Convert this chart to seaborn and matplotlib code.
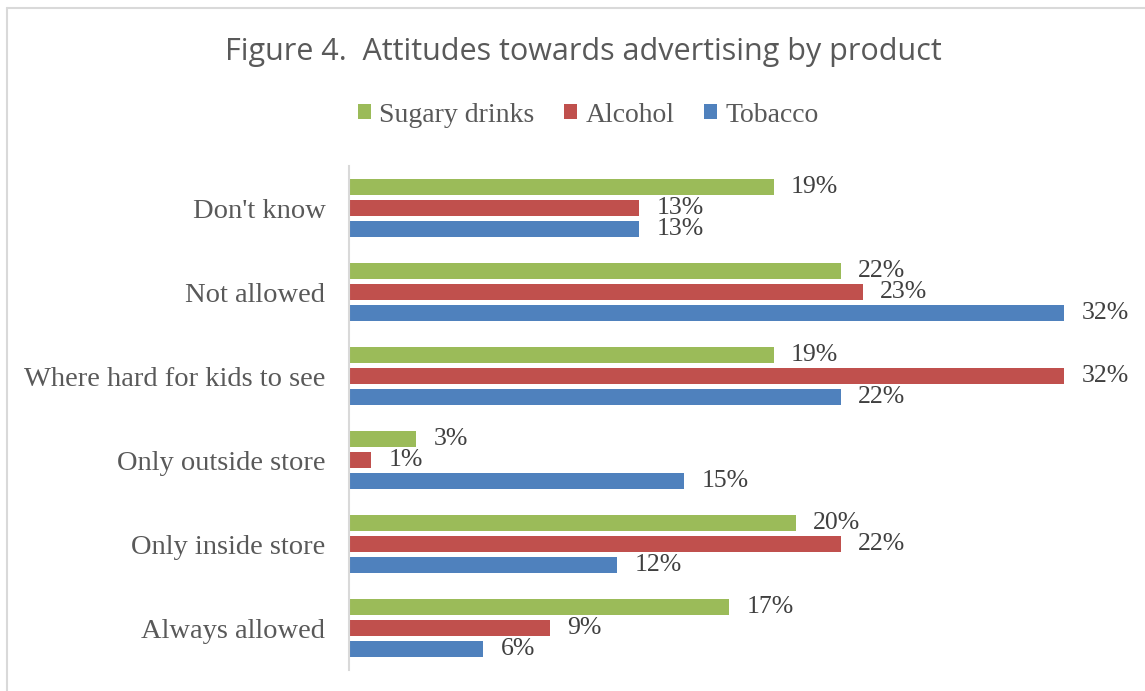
import matplotlib
matplotlib.use("Agg")
import matplotlib.pyplot as plt
import seaborn as sns
import pandas as pd
from matplotlib.lines import Line2D
from matplotlib.patches import Patch

categories = ["Don't know", "Not allowed", "Where hard for kids to see",
              "Only outside store", "Only inside store", "Always allowed"]
series = ["Sugary drinks", "Alcohol", "Tobacco"]
sugary = [19, 22, 19, 3, 20, 17]
alcohol = [13, 23, 32, 1, 22, 9]
tobacco = [13, 32, 22, 15, 12, 6]
colors = ["#9BBB59", "#C0504D", "#4F81BD"]

rows = []
for name, vals in zip(series, [sugary, alcohol, tobacco]):
    for c, v in zip(categories, vals):
        rows.append({"category": c, "product": name, "value": v})
df = pd.DataFrame(rows)

sns.set_style("white")
serif = ["Liberation Serif", "DejaVu Serif"]

W, H = 1145, 691
fig = plt.figure(figsize=(W / 100, H / 100), dpi=100)
ax = fig.add_axes([349 / W, 1 - 670 / H, (1131 - 349) / W, (670 - 166) / H])

sns.barplot(data=df, y="category", x="value", hue="product",
            order=categories, hue_order=series, palette=colors,
            saturation=1, orient="h", width=0.75, gap=0.24, linewidth=0,
            ax=ax, legend=False)

ax.set_xlim(0, 35)
ax.set_ylim(5.5, -0.5)
ax.set_xlabel("")
ax.set_ylabel("")
ax.set_xticks([])
for s in ["top", "right", "bottom"]:
    ax.spines[s].set_visible(False)
ax.spines["left"].set_color("#D9D9D9")
ax.spines["left"].set_linewidth(1.5)
ax.tick_params(axis="y", length=0, pad=17)
for lab in ax.get_yticklabels():
    lab.set_fontfamily(serif)
    lab.set_fontsize(20.5)
    lab.set_color("#595959")

for cont in ax.containers:
    labels = [f"{int(round(v))}%" for v in cont.datavalues]
    ax.bar_label(cont, labels=labels, padding=12.5, fontsize=18.5,
                 color="#404040", family=serif)

fig.text(583 / W, 1 - 52 / H, "Figure 4.  Attitudes towards advertising by product",
         ha="center", va="center", fontsize=22, color="#595959",
         family=["Open Sans", "DejaVu Sans"])

handles = [Patch(facecolor=c, edgecolor="none") for c in colors]
leg = fig.legend(handles, series, loc="center", bbox_to_anchor=(588 / W, 1 - 115 / H),
                 ncol=3, frameon=False, handlelength=0.48, handleheight=0.48,
                 handletextpad=0.3, columnspacing=1.05,
                 prop={"family": serif, "size": 20})
for t in leg.get_texts():
    t.set_color("#595959")

fig.add_artist(Line2D([7 / W, 7 / W], [0, 1 - 8 / H], color="#D9D9D9", lw=1.5,
                      transform=fig.transFigure))
fig.add_artist(Line2D([7 / W, 1], [1 - 8 / H, 1 - 8 / H], color="#D9D9D9", lw=1.5,
                      transform=fig.transFigure))

fig.savefig("out.png", dpi=100)
